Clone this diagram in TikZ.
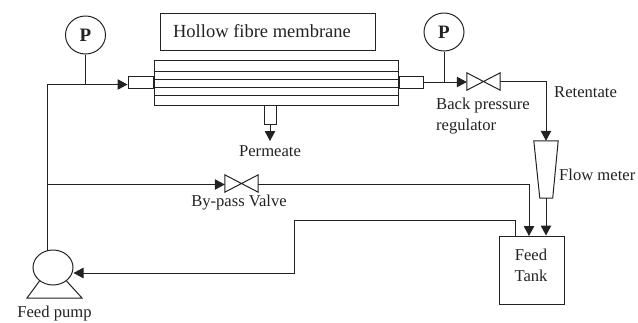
\documentclass[tikz,border=0pt]{standalone}
\usepackage{fontspec}
\setmainfont{Liberation Serif}
\usetikzlibrary{arrows.meta,shapes.geometric,calc}
\definecolor{ink}{HTML}{222222}
\tikzset{
  pipe/.style={draw=ink,line width=1pt},
  flow/.style={pipe,-{Triangle[length=10pt,width=10.5pt]}},
  part/.style={draw=ink,line width=1pt,rectangle,inner sep=0pt,minimum width=#1},
  gauge/.style={draw=ink,line width=1pt,ellipse,inner sep=0pt,minimum width=40pt,minimum height=38pt,text=ink,font=\fontsize{19}{19}\selectfont\bfseries},
  valvebox/.style={rectangle,inner sep=0pt,minimum width=33pt,minimum height=17pt},
  lbl/.style={text=ink,inner sep=0pt,font=\fontsize{16.6}{21}\selectfont,align=center},
  lbll/.style={lbl,align=left,anchor=west},
}
\begin{document}
\begin{tikzpicture}[x=1pt,y=-1pt]
\useasboundingbox (0,0) rectangle (638,322);
% label box
\node[part=215pt,minimum height=37pt] (title) at (267.5,31.5) {};
\node[lbl,font=\fontsize{18.5}{22}\selectfont] (titlelbl) at (262,31) {Hollow fibre membrane};
% module
\node[part=244pt,minimum height=45pt] (mod) at (276,82.5) {};
\foreach \y in {71,79,87,95}{\draw[pipe] (mod.west |- 0,\y) -- (mod.east |- 0,\y);}
\node[part=25pt,minimum height=11.5pt,anchor=east] (inlet) at (mod.west |- 0,82.5) {};
\node[part=24pt,minimum height=11.5pt,anchor=west] (outlet) at (mod.east |- 0,82.5) {};
\node[part=12pt,minimum height=19pt,anchor=north] (perm) at (270,105) {};
\node[lbl] (permlbl) at (270,151) {Permeate};
\draw[flow] (perm.south) -- +(0,16);
% gauges
\node[gauge] (p1) at (85.5,35) {P};
\node[gauge] (p2) at (444,32) {P};
% valves
\node[valvebox] (bpr) at (483.5,81.5) {};
\node[valvebox] (byp) at (241.5,183.5) {};
\foreach \v in {bpr,byp}{\draw[pipe,line join=miter] (\v.north west) -- (\v.south east) -- (\v.north east) -- (\v.south west) -- cycle;}
% flow meter
\node[rectangle,inner sep=0pt,minimum width=24pt,minimum height=57pt] (fm) at (546,169.5) {};
\draw[pipe] (fm.north west) -- (fm.north east) -- ($(fm.south east)+(-5.5,0)$) -- ($(fm.south west)+(6,0)$) -- cycle;
% tank
\node[part=65pt,minimum height=68pt] (tank) at (531.5,270) {};
\node[lbl] (tanklbl) at (531,265) {Feed\\Tank};
% pump
\node[draw=ink,line width=1pt,ellipse,inner sep=0pt,minimum width=40pt,minimum height=35pt] (pump) at (53,267.5) {};
\coordinate (pl) at (27,298);
\coordinate (pr) at (82,298);
\draw[pipe,line join=miter] (pump.-135) -- (pl) -- (pr) -- (pump.-45);
\node[lbl] (pumplbl) at (54.5,314) {Feed pump};
% junctions
\coordinate (corner) at (47,84.5);
\coordinate (pumptop) at (47,251);
\coordinate (j1) at (p1.south |- corner);
\coordinate (j2) at (p2.south |- 0,82);
\coordinate (bypj) at (47,184.5);
% pipes
\draw[pipe] (pumptop) -- (corner);
\draw[flow] (corner) -- (inlet.west |- corner);
\draw[pipe] (p1.south) -- (j1);
\draw[pipe] (outlet.east |- j2) -- (j2);
\draw[pipe] (p2.south) -- (j2);
\draw[flow] (j2) -- (bpr.west |- j2);
\draw[flow] (bpr.east) -| (fm.north);
\draw[flow] (fm.south) -- (fm.south |- tank.north);
\draw[flow] (bypj) -- (byp.west |- bypj);
\draw[flow] (byp.east |- bypj) -- (529,184.5) -- (529,236);
\draw[flow] (515,236) -- (515,220.5) -- (294,220.5) -- (294,273) -- (pump.east |- 0,273);
% labels
\node[lbl] (byplbl) at (239,202.5) {By-pass Valve};
\node[lbll] (bprlbl) at (436,116) {Back pressure\\regulator};
\node[lbll] (retlbl) at (554,92) {Retentate};
\node[lbll] (fmlbl) at (559,174.5) {Flow meter};
\end{tikzpicture}
\end{document}
